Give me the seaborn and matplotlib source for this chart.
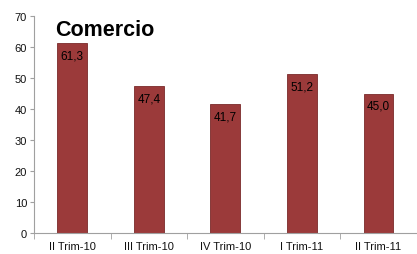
import numpy as np
import pandas as pd
import seaborn as sns
import matplotlib.pyplot as plt

quarters = ['II Trim-10', 'III Trim-10', 'IV Trim-10', 'I Trim-11', 'II Trim-11']
values = [61.3, 47.4, 41.7, 51.2, 45.0]

sns.set_style('white')
plt.rcParams['font.family'] = ['Liberation Sans', 'DejaVu Sans']
plt.rcParams['text.color'] = 'black'
plt.rcParams['xtick.labelcolor'] = '#111111'
plt.rcParams['ytick.labelcolor'] = '#111111'

df = pd.DataFrame({'quarter': quarters, 'value': values})

fig = plt.figure(figsize=(4.17, 2.55), dpi=100)
ax = fig.add_axes([0.0815, 0.082, 0.918, 0.851])

sns.barplot(data=df, x='quarter', y='value', color='#9b3a3a', width=0.39,
            edgecolor='#7a2a2a', linewidth=0.6, ax=ax, saturation=1)

for i, v in enumerate(values):
    ax.text(i, v - 2.0, f'{v:.1f}'.replace('.', ','), ha='center', va='top',
            fontsize=8.5, color='black')

ax.set_ylim(0, 70)
ax.set_xlim(-0.5, 4.5)
ax.set_yticks(range(0, 71, 10))
ax.set_xlabel('')
ax.set_ylabel('')
ax.text(0.054, 0.985, 'Comercio', transform=ax.transAxes, fontsize=15.5,
        fontweight='bold', va='top', ha='left', color='black', clip_on=False)

for s in ['top', 'right']:
    ax.spines[s].set_visible(False)
for s in ['left', 'bottom']:
    ax.spines[s].set_color('#a0a0a0')
    ax.spines[s].set_linewidth(0.8)

ax.tick_params(axis='y', length=3, color='#a0a0a0', labelsize=8, pad=2, left=True)
ax.tick_params(axis='x', length=0, labelsize=8, pad=6)
ax.set_xticks(np.arange(-0.5, 5, 1), minor=True)
ax.tick_params(axis='x', which='minor', length=4, color='#a0a0a0', bottom=True)

fig.savefig('out.png', dpi=100)
